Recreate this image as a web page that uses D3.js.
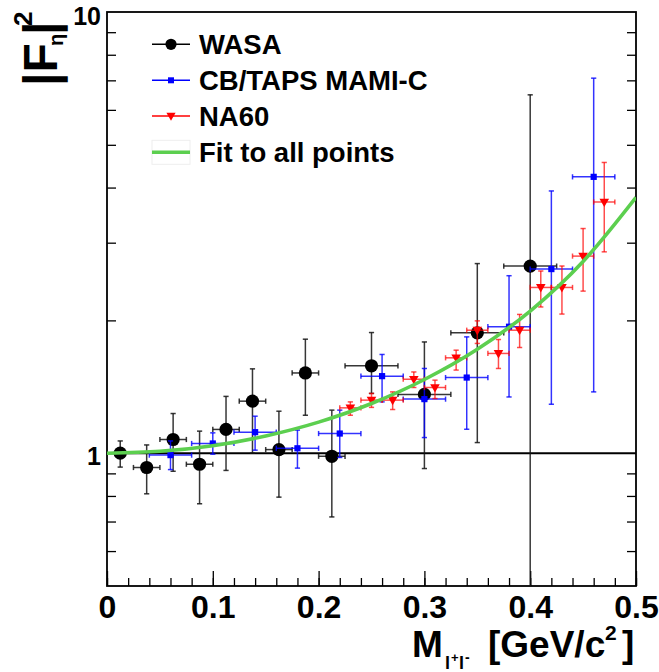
<!DOCTYPE html>
<html><head><meta charset="utf-8">
<script src="https://cdn.jsdelivr.net/npm/d3@7/dist/d3.min.js"></script>
<style>
body{margin:0;background:#fff;}
svg{display:block;}
text{font-family:"Liberation Sans",Arial,Helvetica,sans-serif;font-weight:bold;fill:#000;}
</style></head>
<body>
<svg id="c" width="659" height="672"></svg>
<script>
// ---------- data ----------
const wasaX   = [0.0125,0.0375,0.0625,0.0875,0.1125,0.1375,0.1625,0.1875,0.2125,0.25,0.30,0.35,0.40];
const wasaXErr= [0,0.0125,0.0125,0.0125,0.0125,0.0125,0.0125,0.0125,0.0125,0.025,0.025,0.025,0.025];
const wasaY   = [1.0,0.928,1.074,0.944,1.132,1.312,1.019,1.52,0.984,1.578,1.359,1.874,2.655];
const wasaHi  = [1.066,1.044,1.23,1.122,1.345,1.553,1.245,1.813,1.252,1.877,1.787,2.69,6.49];
const wasaLo  = [0.930,0.809,0.91,0.768,0.914,1.0,0.795,1.219,0.717,1.366,0.923,1.057,0.40];

const cbX   = [0.06,0.10,0.14,0.18,0.22,0.26,0.30,0.34,0.38,0.42,0.46];
const cbXErr= [0.02,0.02,0.02,0.02,0.02,0.02,0.02,0.02,0.02,0.02,0.02];
const cbY   = [0.99,1.052,1.116,1.026,1.108,1.495,1.326,1.484,1.935,2.614,4.23];
const cbHi  = [1.066,1.112,1.213,1.128,1.252,1.674,1.556,1.835,2.525,3.93,7.08];
const cbLo  = [0.918,0.995,1.016,0.925,0.978,1.307,1.085,1.133,1.341,1.291,1.377];

const naX   = [0.23,0.25,0.27,0.29,0.31,0.33,0.35,0.37,0.39,0.41,0.43,0.45,0.47];
const naXErr= [0.01,0.01,0.01,0.01,0.01,0.01,0.01,0.01,0.01,0.01,0.01,0.01,0.01];
const naY   = [1.267,1.319,1.319,1.471,1.409,1.645,1.9,1.683,1.9,2.375,2.375,2.797,3.71];
const naHi  = [1.307,1.366,1.377,1.528,1.464,1.712,1.995,1.81,2.063,2.588,2.656,3.23,4.56];
const naLo  = [1.219,1.27,1.256,1.409,1.33,1.543,1.773,1.556,1.736,2.145,2.067,2.33,2.86];

const fitX = [0,0.05,0.10,0.15,0.20,0.25,0.30,0.35,0.40,0.45,0.50];
const fitY = [1.0,1.01,1.04,1.094,1.176,1.296,1.469,1.72,2.1,2.72,3.8];

const xMajorTicks = [0,0.1,0.2,0.3,0.4,0.5];
const xTickLabels = ["0","0.1","0.2","0.3","0.4","0.5"];
const yMinorTicks = [0.6,0.7,0.8,0.9,2,3,4,5,6,7,8,9];
const yLabelTicks = [1,10];
const yTickLabels = ["1","10"];
const legendLabels = ["WASA","CB/TAPS MAMI-C","NA60","Fit to all points"];

// ---------- layout ----------
const L=107,R=636,T=12,B=586;
const svg = d3.select("#c");
const x = d3.scaleLinear().domain([0,0.5]).range([L,R]);
const y = d3.scaleLog().domain([0.5,10]).range([B,T]);

svg.append("defs").append("clipPath").attr("id","clip")
  .append("rect").attr("x",L).attr("y",T).attr("width",R-L).attr("height",B-T);

// axes (ticks inward)
const xMinor = d3.range(0,0.5001,0.02).map(v=>+v.toFixed(3));
svg.append("g").attr("transform",`translate(0,${B})`)
  .call(d3.axisBottom(x).tickValues(xMinor).tickSize(-8).tickFormat(""))
  .call(g=>{g.select(".domain").remove();g.selectAll("line").attr("stroke","#000").attr("stroke-width",1.3);});
svg.append("g").attr("transform",`translate(0,${B})`)
  .call(d3.axisBottom(x).tickValues(xMajorTicks).tickSize(-15).tickPadding(9.5).tickFormat((d,i)=>xTickLabels[i]))
  .call(g=>{g.select(".domain").remove();g.selectAll("line").attr("stroke","#000").attr("stroke-width",1.3);
     g.selectAll("text").attr("font-size",32).attr("fill","#000")
      .attr("font-family","'Liberation Sans',Arial,sans-serif").attr("font-weight","bold");});

svg.append("g").attr("transform",`translate(${L},0)`)
  .call(d3.axisLeft(y).tickValues(yMinorTicks).tickSize(-9).tickFormat(""))
  .call(g=>{g.select(".domain").remove();g.selectAll("line").attr("stroke","#000").attr("stroke-width",1.3);});
svg.append("g").attr("transform",`translate(${R},0)`)
  .call(d3.axisRight(y).tickValues(yMinorTicks).tickSize(-9).tickFormat(""))
  .call(g=>{g.select(".domain").remove();g.selectAll("line").attr("stroke","#000").attr("stroke-width",1.3);});

// y labels
svg.selectAll("text.ylab").data(yLabelTicks).join("text").attr("class","ylab")
  .attr("x",L-6).attr("y",(d,i)=> i===0 ? y(d)+12 : y(d)+13)
  .attr("text-anchor","end").attr("font-size",25).text((d,i)=>yTickLabels[i]);

// frame
svg.append("rect").attr("x",L).attr("y",T).attr("width",R-L).attr("height",B-T)
  .attr("fill","none").attr("stroke","#000").attr("stroke-width",1.8);

// y = 1 line
svg.append("line").attr("x1",L).attr("x2",R).attr("y1",y(1)).attr("y2",y(1))
  .attr("stroke","#000").attr("stroke-width",2);

const plot = svg.append("g").attr("clip-path","url(#clip)");

function drawSeries(xs,xe,ys,hi,lo,color,barColor,marker){
  const g = plot.append("g");
  const cap=2.6;
  xs.forEach((xv,i)=>{
    const px=x(xv), py=y(ys[i]);
    const bg=g.append("g").attr("stroke",barColor).attr("stroke-width",1.5);
    bg.append("line").attr("x1",px).attr("x2",px).attr("y1",y(hi[i])).attr("y2",y(lo[i]));
    bg.append("line").attr("x1",px-cap).attr("x2",px+cap).attr("y1",y(hi[i])).attr("y2",y(hi[i]));
    bg.append("line").attr("x1",px-cap).attr("x2",px+cap).attr("y1",y(lo[i])).attr("y2",y(lo[i]));
    if(xe[i]>0){
      const x1=x(xv-xe[i]), x2=x(xv+xe[i]);
      bg.append("line").attr("x1",x1).attr("x2",x2).attr("y1",py).attr("y2",py);
      bg.append("line").attr("x1",x1).attr("x2",x1).attr("y1",py-cap).attr("y2",py+cap);
      bg.append("line").attr("x1",x2).attr("x2",x2).attr("y1",py-cap).attr("y2",py+cap);
    }
  });
  xs.forEach((xv,i)=>marker(g,x(xv),y(ys[i]),color,false));
}
function circ(g,px,py,c,leg){g.append("circle").attr("cx",px).attr("cy",py).attr("r",leg?5.6:6.6).attr("fill",c);}
function sq(g,px,py,c,leg){const s=leg?6:6.2;g.append("rect").attr("x",px-s/2).attr("y",py-s/2).attr("width",s).attr("height",s).attr("fill",c);}
function tri(g,px,py,c,leg){const w=leg?4.6:4.8,h=leg?8:8.4;
  g.append("path").attr("d",`M${px-w},${py-h*0.4}L${px+w},${py-h*0.4}L${px},${py+h*0.6}Z`).attr("fill",c);}

drawSeries(wasaX,wasaXErr,wasaY,wasaHi,wasaLo,"#000","rgba(20,20,20,0.85)",circ);
drawSeries(cbX,cbXErr,cbY,cbHi,cbLo,"#0000ff","rgba(0,0,255,0.8)",sq);
drawSeries(naX,naXErr,naY,naHi,naLo,"#ff0000","rgba(255,0,0,0.7)",tri);

// fit
const fitData = fitX.map((v,i)=>[v,fitY[i]]);
plot.append("path").datum(fitData)
  .attr("d",d3.line().x(d=>x(d[0])).y(d=>y(d[1])).curve(d3.curveMonotoneX))
  .attr("fill","none").attr("stroke","#5ccf4f").attr("stroke-width",3.6);

// legend
const legY=[44.3,80.3,116,152.3];
const legCol=["#000","#0000ff","#ff0000","#5ccf4f"];
const legMk=[circ,sq,tri,null];
const lg=svg.append("g");
legendLabels.forEach((lab,i)=>{
  if(i<3){
    lg.append("line").attr("x1",152).attr("x2",190).attr("y1",legY[i]).attr("y2",legY[i])
      .attr("stroke",legCol[i]).attr("stroke-width",1.4);
    legMk[i](lg,171,legY[i],legCol[i],true);
  } else {
    lg.append("rect").attr("x",152).attr("y",legY[i]-12).attr("width",38).attr("height",24)
      .attr("fill","none").attr("stroke","#eeeeee").attr("stroke-width",1);
    lg.append("line").attr("x1",152).attr("x2",190).attr("y1",legY[i]).attr("y2",legY[i])
      .attr("stroke",legCol[i]).attr("stroke-width",3.6);
  }
  lg.append("text").attr("x",199).attr("y",legY[i]+10).attr("font-size",27.5).text(lab);
});

// x title
const xt=svg.append("g");
xt.append("text").attr("x",412).attr("y",657).attr("font-size",37).text("M");
xt.append("text").attr("x",445).attr("y",669).attr("font-size",18).text("l");
xt.append("text").attr("x",451).attr("y",662).attr("font-size",13).text("+");
xt.append("text").attr("x",459).attr("y",669).attr("font-size",18).text("l");
xt.append("text").attr("x",465).attr("y",662).attr("font-size",14).text("-");
xt.append("text").attr("x",488).attr("y",657).attr("font-size",37).text("[GeV/c");
xt.append("text").attr("x",605).attr("y",640).attr("font-size",21).text("2");
xt.append("text").attr("x",622).attr("y",657).attr("font-size",37).text("]");

// y title (rotated)
const yt=svg.append("g").attr("transform","rotate(-90)");
yt.append("text").attr("x",-86).attr("y",57).attr("font-size",48).text("|F");
yt.append("text").attr("x",-46).attr("y",63).attr("font-size",20).attr("font-family","'DejaVu Sans',sans-serif").attr("font-weight","normal").text("η");
yt.append("text").attr("x",-35).attr("y",57).attr("font-size",48).text("|");
yt.append("text").attr("x",-26).attr("y",32).attr("font-size",26).text("2");
</script>
</body></html>
